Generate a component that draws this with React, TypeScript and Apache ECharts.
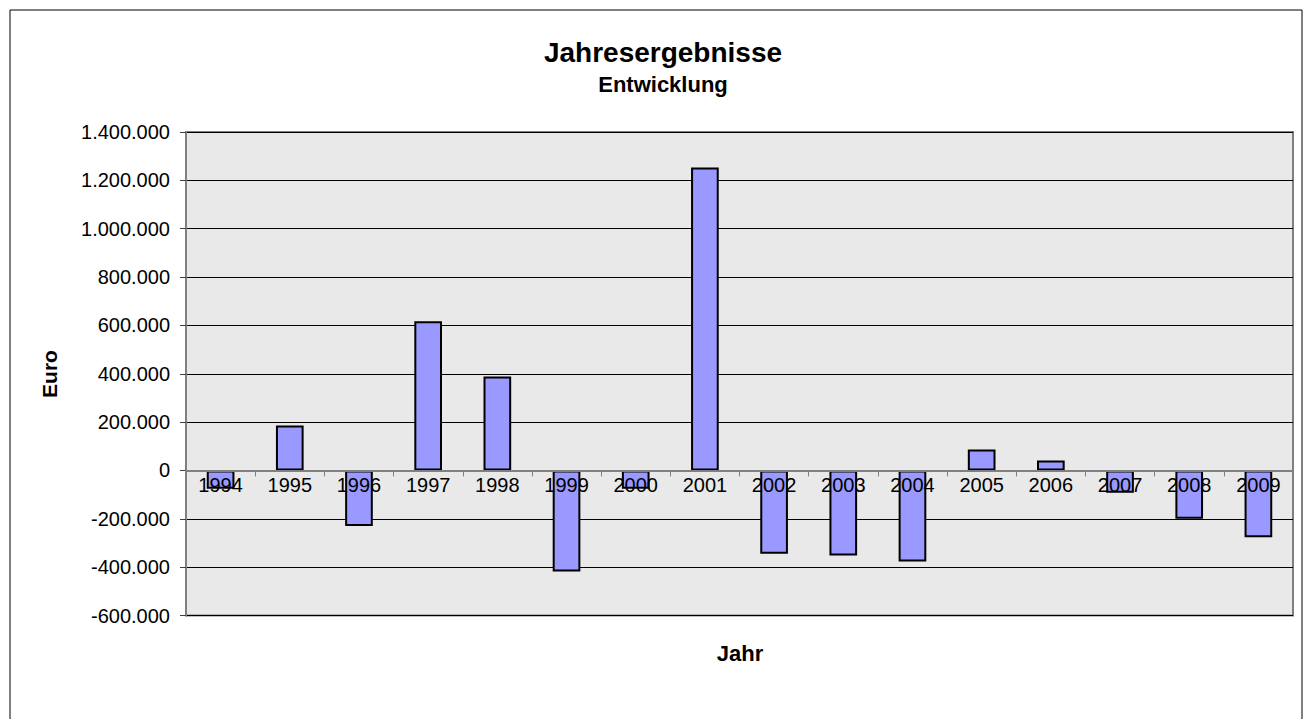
import React, { useEffect, useRef } from "react";
import * as echarts from "echarts";

const years = ["1994", "1995", "1996", "1997", "1998", "1999", "2000", "2001", "2002", "2003", "2004", "2005", "2006", "2007", "2008", "2009"];
const results = [-76000, 186000, -230000, 617000, 389000, -418000, -76000, 1253000, -345000, -352000, -377000, 87000, 41000, -92000, -200000, -276000];
const titleText = "Jahresergebnisse";
const subtitleText = "Entwicklung";
const yName = "Euro";
const xName = "Jahr";
const Y_MIN = -600000;
const Y_MAX = 1400000;
const Y_STEP = 200000;

function fmtDe(v: number): string {
  const neg = v < 0;
  const s = Math.abs(Math.round(v)).toString();
  const parts: string[] = [];
  for (let i = s.length; i > 0; i -= 3) parts.unshift(s.slice(Math.max(0, i - 3), i));
  return (neg ? "-" : "") + parts.join(".");
}

const FONT = "'Liberation Sans', Arial, sans-serif";
const GRID_TOP = 132;
const GRID_BOTTOM = 103.5;
const H = 719;

export default function App() {
  const ref = useRef<HTMLDivElement>(null);
  useEffect(() => {
    if (!ref.current) return;
    const chart = echarts.init(ref.current, undefined, { renderer: "svg" });
    const plotH = H - GRID_TOP - GRID_BOTTOM;
    // distance from the plot's bottom edge up to the zero line
    const zeroFromBottom = plotH * (0 - Y_MIN) / (Y_MAX - Y_MIN);
    chart.setOption({
      animation: false,
      backgroundColor: "#ffffff",
      textStyle: { fontFamily: FONT },
      grid: {
        left: 186,
        right: 13,
        top: GRID_TOP,
        bottom: GRID_BOTTOM,
        show: true,
        backgroundColor: "#e9e9e9",
        borderColor: "#808080",
        borderWidth: 2,
        containLabel: false,
      },
      graphic: [
        {
          type: "rect",
          shape: { x: 10, y: 10, width: 1292, height: 760 },
          style: { fill: "none", stroke: "#000", lineWidth: 1 },
          silent: true,
          z: -1,
        },
        {
          type: "text",
          x: 663,
          y: 52,
          style: { text: titleText, font: `bold 28px ${FONT}`, fill: "#000", textAlign: "center", textVerticalAlign: "middle" },
        },
        {
          type: "text",
          x: 663,
          y: 84,
          style: { text: subtitleText, font: `bold 22px ${FONT}`, fill: "#000", textAlign: "center", textVerticalAlign: "middle" },
        },
        {
          type: "text",
          x: 49,
          y: 374,
          rotation: Math.PI / 2,
          style: { text: yName, font: `bold 21px ${FONT}`, fill: "#000", textAlign: "center", textVerticalAlign: "middle" },
        },
        {
          type: "text",
          x: 740,
          y: 653,
          style: { text: xName, font: `bold 22px ${FONT}`, fill: "#000", textAlign: "center", textVerticalAlign: "middle" },
        },
      ],
      xAxis: {
        type: "category",
        data: years,
        z: 3,
        offset: -zeroFromBottom,
        axisLine: { show: true, onZero: false, lineStyle: { color: "#808080", width: 2 } },
        axisTick: { show: true, alignWithLabel: false, length: 6, lineStyle: { color: "#808080", width: 1 } },
        axisLabel: { color: "#000", fontSize: 20, fontFamily: FONT, margin: 5, interval: 0 },
        splitLine: { show: false },
      },
      yAxis: {
        type: "value",
        min: Y_MIN,
        max: Y_MAX,
        interval: Y_STEP,
        axisLine: { show: true, lineStyle: { color: "#808080", width: 2 } },
        axisTick: { show: true, length: 6, lineStyle: { color: "#404040", width: 1 } },
        axisLabel: { color: "#000", fontSize: 20, fontFamily: FONT, margin: 16, formatter: (v: number) => fmtDe(v) },
        splitLine: { show: true, lineStyle: { color: "#000", width: 1 } },
      },
      series: [
        {
          type: "bar",
          data: results,
          barWidth: "40%",
          itemStyle: { color: "#9999ff", borderColor: "#000", borderWidth: 2 },
        },
      ],
    });
    return () => chart.dispose();
  }, []);
  return <div ref={ref} style={{ position: "fixed", left: 0, top: 0, width: 1306, height: 719 }} />;
}
